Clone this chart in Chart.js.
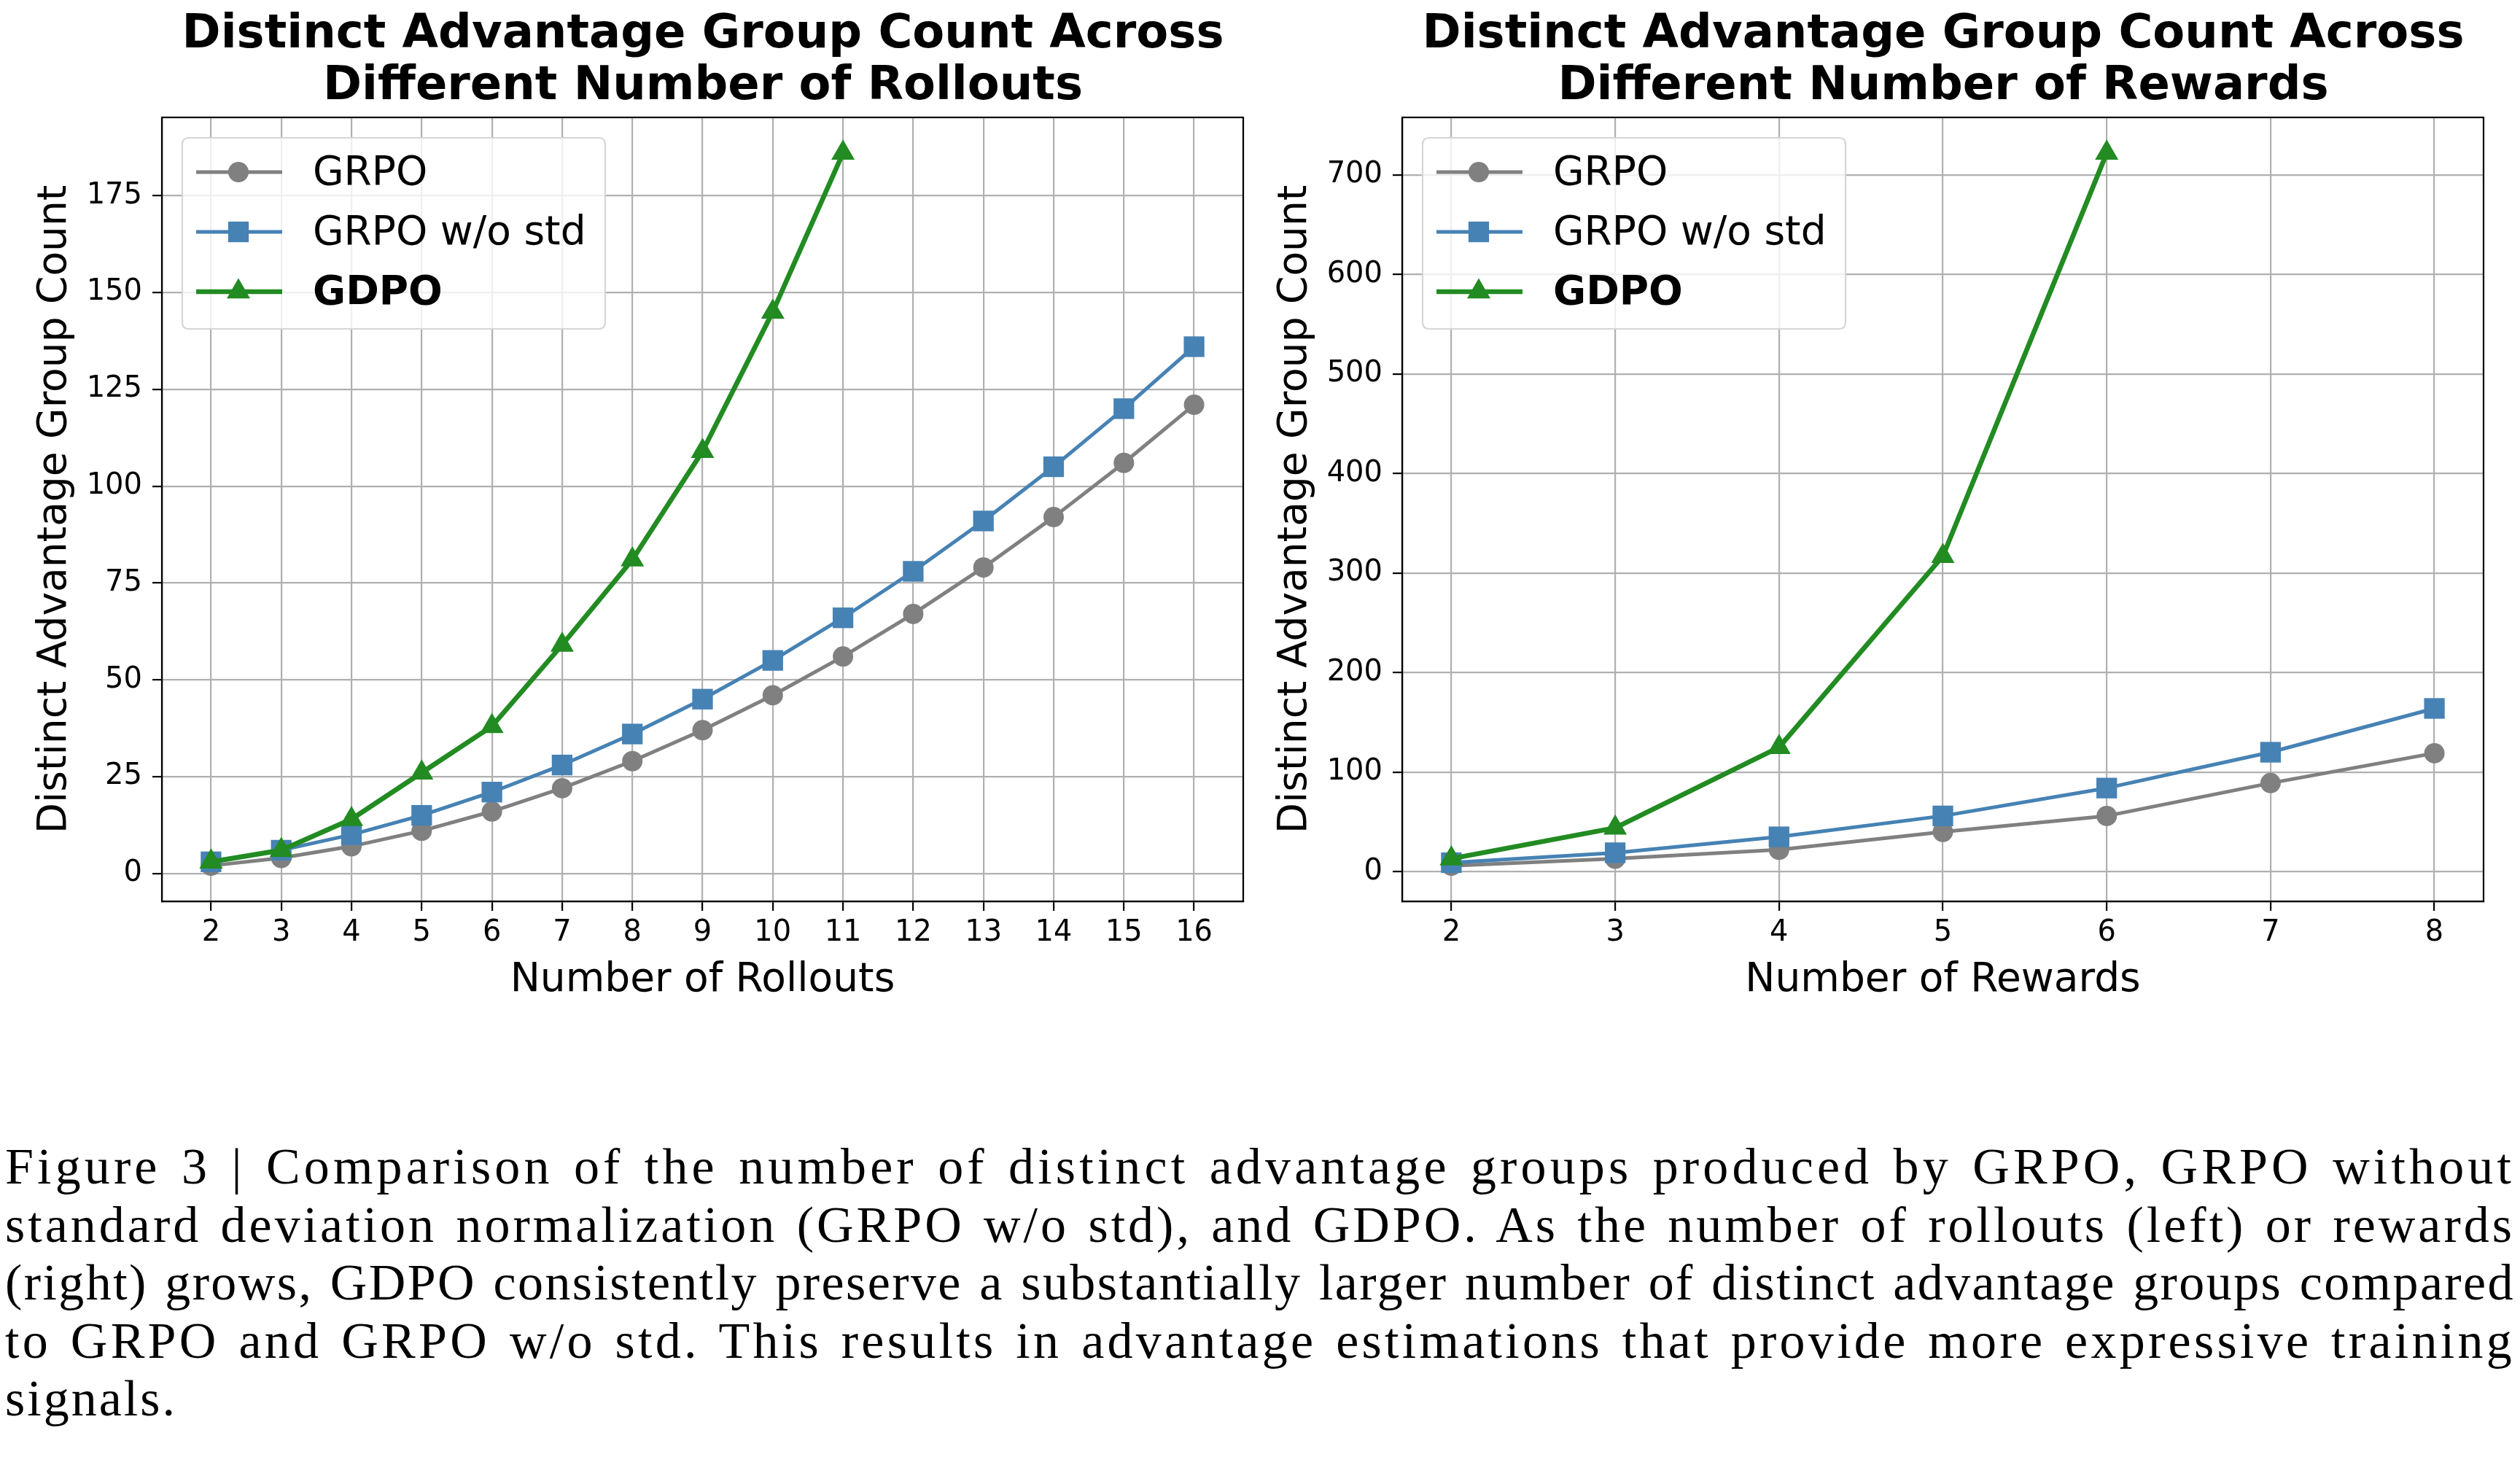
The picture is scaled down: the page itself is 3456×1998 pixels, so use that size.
<!DOCTYPE html>
<html><head><meta charset="utf-8">
<script src="https://cdn.jsdelivr.net/npm/chart.js@4.4.1/dist/chart.umd.min.js"></script>
<style>
html,body{margin:0;padding:0;background:#fff;}
body{width:3456px;height:1998px;position:relative;overflow:hidden;}
canvas{position:absolute;top:0;}
.title{position:absolute;top:8px;width:1700px;font-family:'DejaVu Sans';font-weight:bold;font-size:64px;line-height:71px;text-align:center;white-space:nowrap;color:#000;}
.cap{position:absolute;left:7px;font-family:'Liberation Serif';font-size:70px;line-height:79.5px;white-space:nowrap;color:#000;}
</style></head><body>
<canvas id="c1" width="1728" height="1400" style="left:0px"></canvas>
<canvas id="c2" width="1728" height="1400" style="left:1728px"></canvas>
<div class="title" style="left:114px">Distinct Advantage Group Count Across<br>Different Number of Rollouts</div>
<div class="title" style="left:1815px">Distinct Advantage Group Count Across<br>Different Number of Rewards</div>
<div id="caption"></div>
<script>
// ---- data ----
const rollouts = [2,3,4,5,6,7,8,9,10,11,12,13,14,15,16];
const grpoRollouts = [2,4,7,11,16,22,29,37,46,56,67,79,92,106,121];
const grpoNoStdRollouts = [3,6,10,15,21,28,36,45,55,66,78,91,105,120,136];
const gdpoRollouts = [3,6,14,26,38,59,81,109,145,186];

const rewards = [2,3,4,5,6,7,8];
const grpoRewards = [6,13,22,40,56,89,119];
const grpoNoStdRewards = [9,19,35,56,84,120,164];
const gdpoRewards = [13,44,125,317,722];

const yTicksRollouts = [0,25,50,75,100,125,150,175];
const yTicksRewards = [0,100,200,300,400,500,600,700];

const seriesNames = ['GRPO','GRPO w/o std','GDPO'];
const captionLines = [
 'Figure 3 | Comparison of the number of distinct advantage groups produced by GRPO, GRPO without',
 'standard deviation normalization (GRPO w/o std), and GDPO. As the number of rollouts (left) or rewards',
 '(right) grows, GDPO consistently preserve a substantially larger number of distinct advantage groups compared',
 'to GRPO and GRPO w/o std. This results in advantage estimations that provide more expressive training',
 'signals.'
];

// ---- styles ----
const STY = [
 {color:'#808080', pointStyle:'circle', radius:14, width:5, bold:false, order:2},
 {color:'#4682b4', pointStyle:'rect', radius:20, width:5, bold:false, order:1},
 {color:'#228b22', pointStyle:'triangle', radius:18.5, width:6.7, bold:true, order:0}
];

Chart.defaults.font.family = "'DejaVu Sans'";
Chart.defaults.color = '#000';

function pts(xs, ys){ return ys.map((y,i)=>({x:xs[i], y:y})); }

function drawMarker(ctx, style, r, x, y, color){
  ctx.fillStyle = color;
  ctx.beginPath();
  if(style==='circle'){ ctx.arc(x,y,r,0,Math.PI*2); }
  else if(style==='rect'){ const s=Math.SQRT1_2*r; ctx.rect(x-s,y-s,2*s,2*s); }
  else { ctx.moveTo(x, y-r); ctx.lineTo(x+Math.sin(2*Math.PI/3)*r, y-Math.cos(2*Math.PI/3)*r);
         ctx.lineTo(x+Math.sin(4*Math.PI/3)*r, y-Math.cos(4*Math.PI/3)*r); ctx.closePath(); }
  ctx.fill();
}

const frameLegend = {
  id:'frameLegend',
  afterDatasetsDraw(chart){
    const ctx = chart.ctx, a = chart.chartArea;
    ctx.save();
    ctx.strokeStyle = '#000'; ctx.lineWidth = 2.2;
    ctx.strokeRect(a.left, a.top, a.right-a.left, a.bottom-a.top);
    const lx = a.left+28, ly = a.top+28, lw = 580, lh = 262, r = 9;
    ctx.beginPath();
    ctx.moveTo(lx+r,ly); ctx.lineTo(lx+lw-r,ly); ctx.quadraticCurveTo(lx+lw,ly,lx+lw,ly+r);
    ctx.lineTo(lx+lw,ly+lh-r); ctx.quadraticCurveTo(lx+lw,ly+lh,lx+lw-r,ly+lh);
    ctx.lineTo(lx+r,ly+lh); ctx.quadraticCurveTo(lx,ly+lh,lx,ly+lh-r);
    ctx.lineTo(lx,ly+r); ctx.quadraticCurveTo(lx,ly,lx+r,ly); ctx.closePath();
    ctx.fillStyle = 'rgba(255,255,255,0.8)'; ctx.fill();
    ctx.strokeStyle = '#d6d6d6'; ctx.lineWidth = 2.2; ctx.stroke();
    chart.data.datasets.forEach((ds,i)=>{
      const st = STY[i];
      const cy = ly + 47 + i*82;
      ctx.strokeStyle = st.color; ctx.lineWidth = st.width; ctx.lineCap='butt';
      ctx.beginPath(); ctx.moveTo(lx+19, cy); ctx.lineTo(lx+137, cy); ctx.stroke();
      drawMarker(ctx, st.pointStyle, st.radius, lx+77, cy, st.color);
      ctx.fillStyle = '#000';
      ctx.font = (st.bold?'bold ':'') + "55px 'DejaVu Sans'";
      ctx.textAlign = 'left'; ctx.textBaseline = 'middle';
      ctx.fillText(ds.label, lx+179, cy+3);
    });
    ctx.restore();
  }
};

function makeChart(id, xs, ys3, yTicks, xTitle, yAxisWidth, yTitlePad, padRight){
  const all = [].concat(...ys3);
  const mn = Math.min(...all), mx = Math.max(...all), m = (mx-mn)*0.05;
  const xm = (xs[xs.length-1]-xs[0])*0.05;
  const datasets = ys3.map((ys,i)=>({
    label: seriesNames[i],
    data: pts(xs, ys),
    borderColor: STY[i].color, backgroundColor: STY[i].color,
    borderWidth: STY[i].width, pointStyle: STY[i].pointStyle,
    pointRadius: STY[i].radius, pointBorderWidth: 0,
    pointBackgroundColor: STY[i].color, pointBorderColor: STY[i].color,
    tension: 0, order: STY[i].order, borderJoinStyle:'round', fill:false
  }));
  const gridOpts = {color:'#b0b0b0', lineWidth:2.2, tickColor:'#000', tickLength:13, tickWidth:2.2, drawTicks:true};
  return new Chart(document.getElementById(id), {
    type:'line',
    data:{datasets},
    plugins:[frameLegend],
    options:{
      responsive:false, animation:false, devicePixelRatio:1,
      layout:{padding:{top:161, right:padRight, bottom:22, left:0}},
      plugins:{legend:{display:false}, tooltip:{enabled:false}, title:{display:false}},
      scales:{
        x:{type:'linear', min:xs[0]-xm, max:xs[xs.length-1]+xm,
          afterBuildTicks:s=>{s.ticks = xs.map(v=>({value:v}));},
          afterFit:s=>{s.height = 142;},
          grid:gridOpts, border:{display:true, color:'#000', width:2.2},
          ticks:{font:{size:40}, color:'#000', padding:7, maxRotation:0, autoSkip:false, callback:v=>String(v)},
          title:{display:true, text:xTitle, font:{size:55}, color:'#000', padding:{top:0,bottom:0}}
        },
        y:{type:'linear', min:mn-m, max:mx+m,
          afterBuildTicks:s=>{s.ticks = yTicks.map(v=>({value:v}));},
          afterFit:s=>{s.width = yAxisWidth;},
          grid:gridOpts, border:{display:true, color:'#000', width:2.2},
          ticks:{font:{size:40}, color:'#000', padding:14, autoSkip:false, callback:v=>String(v)},
          title:{display:true, text:'Distinct Advantage Group Count', font:{size:55}, color:'#000', padding:{top:yTitlePad,bottom:0}}
        }
      }
    }
  });
}

makeChart('c1', rollouts, [grpoRollouts, grpoNoStdRollouts, gdpoRollouts], yTicksRollouts, 'Number of Rollouts', 222, 43, 23);
makeChart('c2', rewards, [grpoRewards, grpoNoStdRewards, gdpoRewards], yTicksRewards, 'Number of Rewards', 195, 16, 50);

// ---- caption ----
const capHost = document.getElementById('caption');
const target = 3442;
captionLines.forEach((t,i)=>{
  const d = document.createElement('div');
  d.className = 'cap';
  d.style.top = (1560 + i*79.5) + 'px';
  d.textContent = t;
  capHost.appendChild(d);
  const n = t.length, sp = (t.match(/ /g)||[]).length;
  if(i < captionLines.length-1){
    let w = d.getBoundingClientRect().width;
    let def = target - w;
    if(def > 0){
      const ls = Math.min(def*0.85/n, 9);
      d.style.letterSpacing = ls + 'px';
      w = d.getBoundingClientRect().width;
      def = target - w;
      d.style.wordSpacing = (def/sp) + 'px';
    } else {
      d.style.letterSpacing = (def/n) + 'px';
    }
  } else {
    d.style.letterSpacing = '3px';
  }
});
</script>
</body></html>
